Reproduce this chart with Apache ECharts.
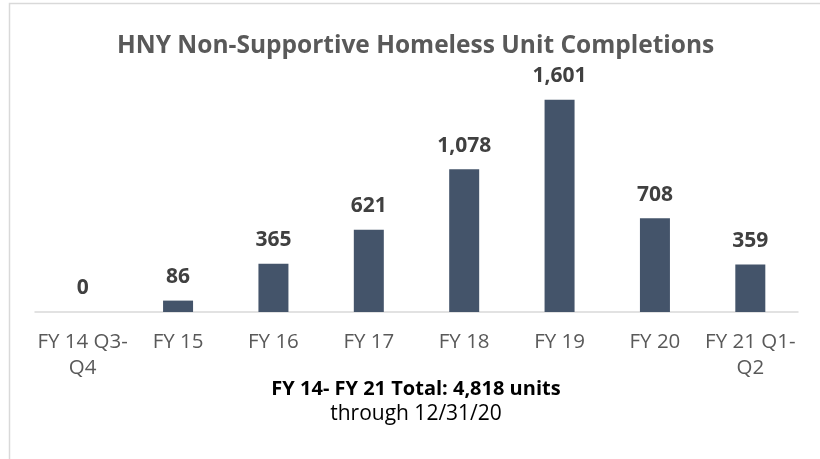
<!DOCTYPE html>
<html>
<head>
<meta charset="utf-8">
<script src="https://cdn.jsdelivr.net/npm/echarts@6/dist/echarts.min.js"></script>
<style>
  html, body { margin: 0; padding: 0; background: #fff; }
  #chart { width: 820px; height: 459px; }
</style>
</head>
<body>
<div id="chart"></div>
<script>
const categories = ["FY 14 Q3-\nQ4", "FY 15", "FY 16", "FY 17", "FY 18", "FY 19", "FY 20", "FY 21 Q1-\nQ2"];
const completions = [0, 86, 365, 621, 1078, 1601, 708, 359];
const titleText = "HNY Non-Supportive Homeless Unit Completions";
const totalText = "FY 14- FY 21 Total: 4,818 units";
const throughText = "through 12/31/20";

const chart = echarts.init(document.getElementById("chart"));
chart.setOption({
  animation: false,
  title: {
    text: titleText,
    left: 112,
    top: 29,
    textStyle: { fontFamily: "Open Sans", fontSize: 24.5, fontWeight: "bold", color: "#595959" }
  },
  grid: { left: 35, right: 22, top: 47, bottom: 147 },
  xAxis: {
    type: "category",
    data: categories,
    axisLine: { lineStyle: { color: "#d9d9d9", width: 1.5 } },
    axisTick: { show: false },
    axisLabel: {
      color: "#595959",
      fontFamily: "Open Sans",
      fontSize: 20.5,
      lineHeight: 26,
      margin: 17,
      interval: 0
    }
  },
  yAxis: {
    type: "value",
    min: 0,
    max: 2000,
    show: false
  },
  series: [{
    type: "bar",
    data: completions,
    barWidth: 30,
    itemStyle: { color: "#44546A" },
    label: {
      show: true,
      position: "top",
      distance: 13,
      color: "#404040",
      fontFamily: "Open Sans",
      fontWeight: "bold",
      fontSize: 21,
      formatter: p => p.value.toLocaleString("en-US")
    }
  }],
  graphic: [
    {
      type: "rect",
      shape: { x: 9.5, y: 3.5, width: 830, height: 470 },
      style: { fill: "none", stroke: "#d9d9d9", lineWidth: 1.5 }
    },
    {
      type: "text",
      x: 416, y: 389,
      style: {
        text: totalText, align: "center", verticalAlign: "middle",
        fontFamily: "Open Sans", fontWeight: "bold", fontSize: 20, fill: "#000"
      }
    },
    {
      type: "text",
      x: 416, y: 414,
      style: {
        text: throughText, align: "center", verticalAlign: "middle",
        fontFamily: "Open Sans", fontSize: 21, fill: "#000"
      }
    }
  ]
});
</script>
</body>
</html>
